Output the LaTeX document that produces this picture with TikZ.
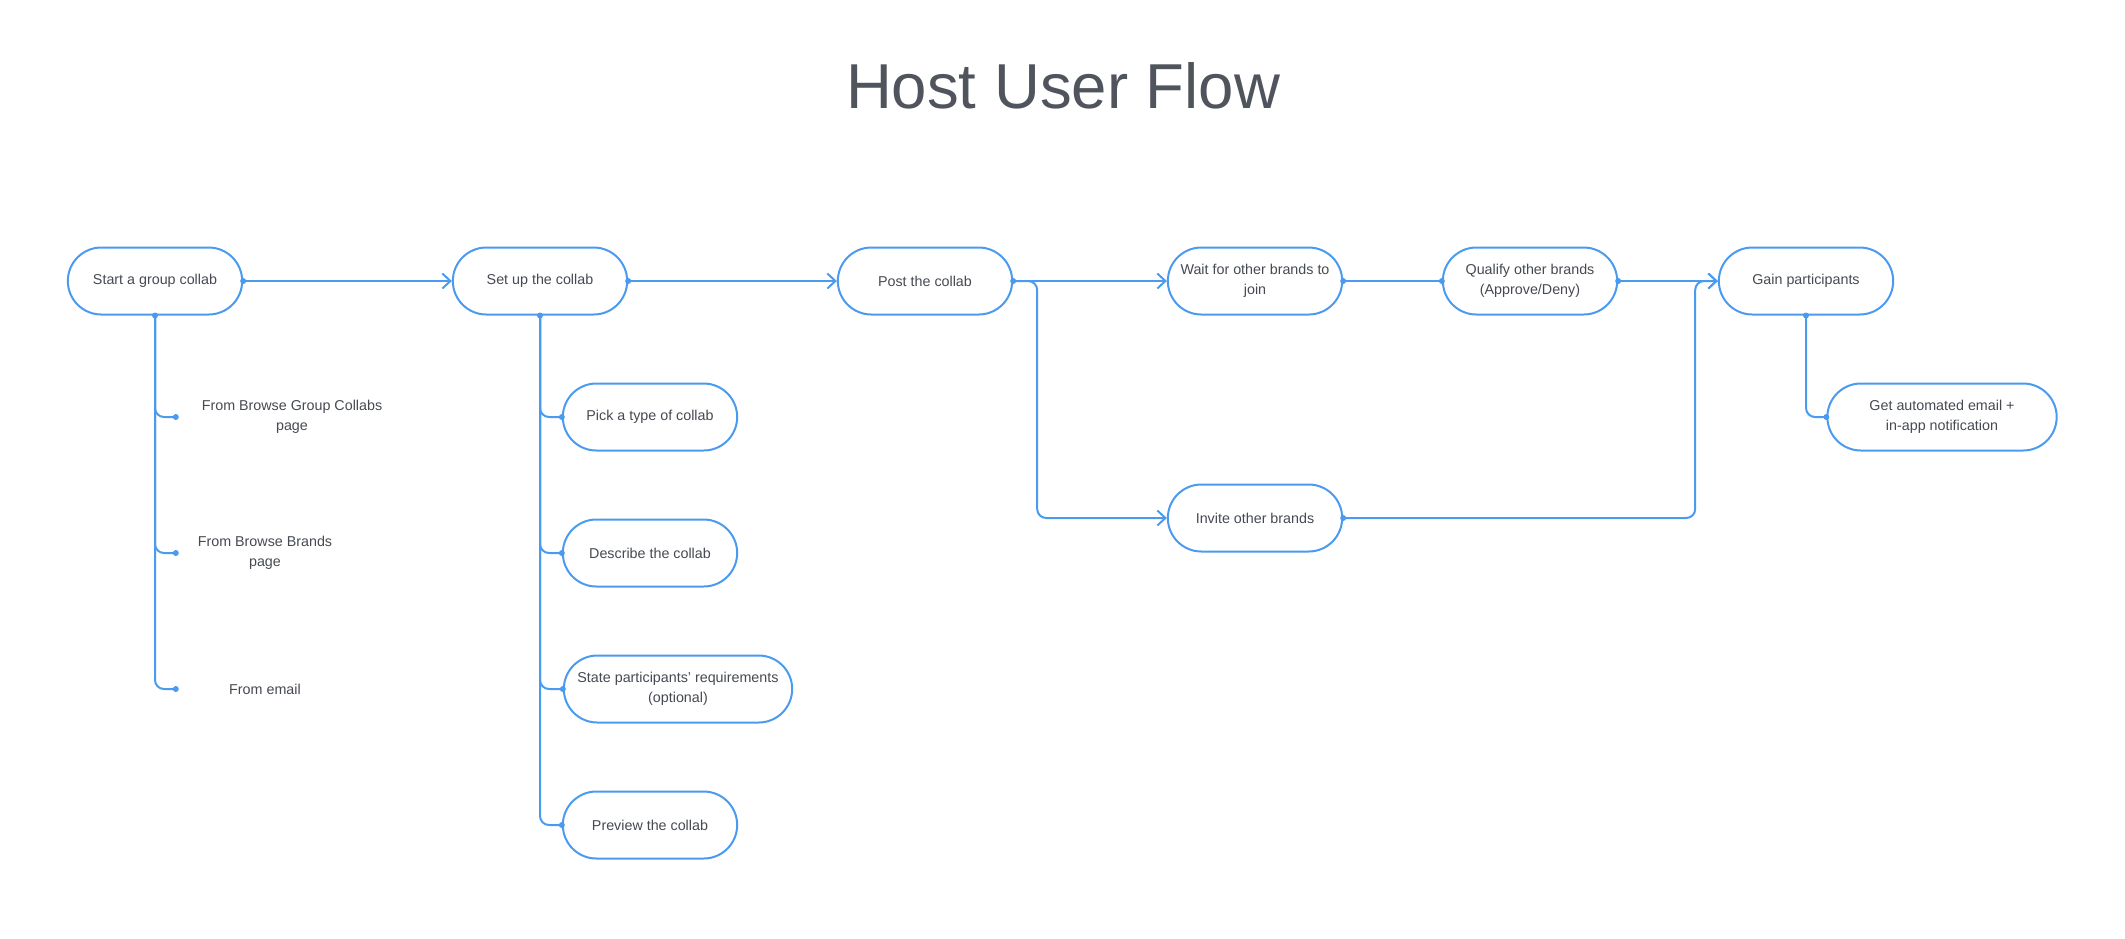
\documentclass[tikz,border=0pt]{standalone}
\usepackage{fontspec}
\setmainfont{Liberation Sans}
\usetikzlibrary{arrows.meta,shapes.misc}
\definecolor{flowblue}{HTML}{4A9AF0}
\definecolor{inktext}{HTML}{454951}
\definecolor{titlegray}{HTML}{50545C}

\begin{document}
\begin{tikzpicture}[x=1pt, y=-1pt,
    >={Straight Barb[length=8pt,width=15pt]},
    pill/.style={rounded rectangle, draw=flowblue, line width=2pt, minimum width=181pt,
        minimum height=67pt, align=center, text=inktext, font=\fontsize{14.3}{20}\selectfont},
    source/.style={minimum width=178pt, align=center, text=inktext, font=\fontsize{14.3}{20}\selectfont},
    flow/.style={draw=flowblue, line width=2pt, rounded corners=9pt}]
    \useasboundingbox (0,0) rectangle (2125,938);

    \node[text=titlegray, font=\fontsize{63.5}{70}\selectfont] (title) at (1063,86) {Host User Flow};

    % main row
    \node[pill] (start) at (155,281) {Start a group collab};
    \node[pill] (setup) at (540,281) {Set up the collab};
    \node[pill] (post) at (925,281) {Post the collab};
    \node[pill] (wait) at (1255,281) {Wait for other brands to\\join};
    \node[pill] (qualify) at (1530,281) {Qualify other brands\\(Approve/Deny)};
    \node[pill] (gain) at (1806,281) {Gain participants};
    \node[pill] (invite) at (1255,518) {Invite other brands};
    \node[pill, minimum width=236pt] (notify) at (1942,417) {Get automated email +\\in-app notification};

    % entry points
    \node[source, minimum width=232pt] (srcgroup) at (292,417) {From Browse Group Collabs\\page};
    \node[source] (srcbrands) at (265,553) {From Browse Brands\\page};
    \node[source] (srcemail) at (265,689) {From email};

    % set up steps
    \node[pill] (pick) at (650,417) {Pick a type of collab};
    \node[pill] (describe) at (650,553) {Describe the collab};
    \node[pill, minimum width=235pt] (state) at (678,689) {State participants' requirements\\(optional)};
    \node[pill] (preview) at (650,825) {Preview the collab};

    \draw[flow, ->] (start.east) -- (setup.west);
    \draw[flow, ->] (setup.east) -- (post.west);
    \draw[flow, ->] (post.east) -- (wait.west);
    \draw[flow] (wait.east) -- (qualify.west);
    \draw[flow, ->] (qualify.east) -- (gain.west);
    \draw[flow, ->] (post.east) -- ++(24,0) |- (invite.west);
    \draw[flow, ->] (invite.east) -- ++(352,0) |- (gain.west);
    \draw[flow] (gain.south) |- (notify.west);

    \foreach \src in {srcgroup, srcbrands, srcemail}
        \draw[flow] (start.south) |- (\src.west);
    \foreach \sub in {pick, describe, state, preview}
        \draw[flow] (setup.south) |- (\sub.west);

    % dots
    \foreach \p in {start.east, start.south, setup.east, setup.south, post.east, wait.east,
            qualify.west, qualify.east, invite.east, gain.south, notify.west,
            srcgroup.west, srcbrands.west, srcemail.west,
            pick.west, describe.west, state.west, preview.west}
        \fill[flowblue] (\p) circle (3pt);
\end{tikzpicture}
\end{document}
